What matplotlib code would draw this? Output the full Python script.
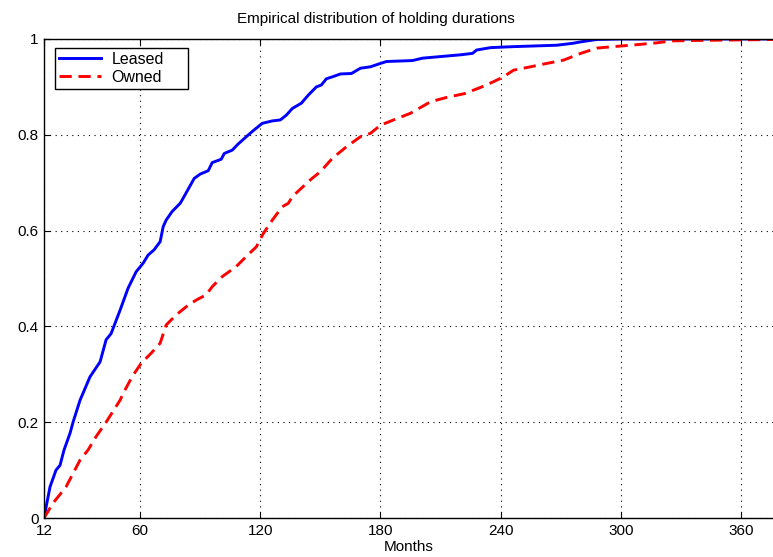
import matplotlib
matplotlib.use("Agg")
import matplotlib.pyplot as plt

plt.rcParams['font.family'] = ['Liberation Sans', 'DejaVu Sans']

# Data
leased_months = [12, 15, 18, 20, 22, 25, 26.5, 30, 35, 40, 43, 45.5, 50, 54, 58, 61.5, 64, 67, 70,
                 71.5, 73, 76, 80, 81, 87, 90, 94, 96, 100.5, 102, 106, 109, 113, 116, 121, 126,
                 130, 133, 136, 140.5, 144, 148, 150.5, 153, 156, 160, 165.5, 170, 175, 180, 183,
                 196, 201, 220, 226, 228, 235, 246, 268, 276, 280, 288, 300, 376]
leased_cdf = [0.0, 0.065, 0.10, 0.11, 0.142, 0.177, 0.20, 0.246, 0.295, 0.326, 0.372, 0.385, 0.434,
              0.48, 0.514, 0.532, 0.549, 0.56, 0.577, 0.608, 0.622, 0.64, 0.657, 0.664, 0.709,
              0.718, 0.725, 0.742, 0.749, 0.761, 0.768, 0.781, 0.796, 0.807, 0.824, 0.829, 0.831,
              0.841, 0.855, 0.866, 0.883, 0.90, 0.904, 0.917, 0.921, 0.927, 0.928, 0.939, 0.942,
              0.949, 0.953, 0.955, 0.96, 0.967, 0.97, 0.977, 0.982, 0.984, 0.987, 0.991, 0.994,
              0.999, 1.0, 1.0]

owned_months = [12, 16.5, 23, 30, 34, 38, 43, 50, 51.5, 56, 60.5, 65.5, 70, 73, 78, 83, 88, 93, 96,
                101, 108, 113, 118, 121.5, 126, 131, 134, 136, 145, 150, 156, 163, 170, 175, 180,
                186.5, 195, 205, 213, 222, 230, 236.5, 241, 246.5, 255, 263, 271.5, 280, 288, 296,
                305, 318, 325, 338, 376]
owned_cdf = [0.0, 0.031, 0.065, 0.121, 0.142, 0.17, 0.20, 0.246, 0.26, 0.295, 0.323, 0.344, 0.365,
             0.403, 0.424, 0.441, 0.455, 0.466, 0.483, 0.504, 0.525, 0.546, 0.566, 0.594, 0.622,
             0.65, 0.657, 0.671, 0.706, 0.723, 0.751, 0.775, 0.796, 0.803, 0.82, 0.831, 0.845,
             0.869, 0.878, 0.886, 0.899, 0.911, 0.92, 0.935, 0.942, 0.949, 0.956, 0.97, 0.981,
             0.984, 0.987, 0.992, 0.996, 0.997, 0.999]

xticks = [12, 60, 120, 180, 240, 300, 360]
yticks = [0, 0.2, 0.4, 0.6, 0.8, 1]
yticklabels = ['0', '0.2', '0.4', '0.6', '0.8', '1']

W, H = 773, 557
fig = plt.figure(figsize=(W / 100, H / 100), dpi=100)
ax = fig.add_axes([44 / W, 1 - 518 / H, 1 - 44 / W, (518 - 39) / H])

ax.plot(leased_months, leased_cdf, color='#0000ff', lw=2.1, label='Leased', solid_joinstyle='round')
ax.plot(owned_months, owned_cdf, color='#ff0000', lw=2.1, ls=(0, (4.2, 2.3)), label='Owned')

ax.set_xlim(12, 376)
ax.set_ylim(0, 1)
ax.set_xticks(xticks)
ax.set_yticks(yticks)
ax.set_yticklabels(yticklabels)
ax.tick_params(direction='in', length=4, width=0.8, top=True, right=False,
               labelsize=11, colors='black', pad=4)
ax.grid(True, color='black', linestyle=(0, (1, 4)), linewidth=0.8)
for side in ['left', 'bottom', 'top']:
    ax.spines[side].set_linewidth(1.0)
ax.spines['right'].set_visible(False)

ax.set_xlabel('Months', fontsize=11, labelpad=2)
fig.text(376 / W, 1 - 19 / H, 'Empirical distribution of holding durations',
         ha='center', va='center', fontsize=11)

axw, axh = 729.0, 479.0
leg = ax.legend(loc='upper left',
                bbox_to_anchor=(11 / axw, 1 - 9 / axh - 0.1, 133 / axw, 0.1),
                mode='expand', fontsize=11.5,
                frameon=True, fancybox=False, edgecolor='black', framealpha=1,
                borderpad=0.25, handlelength=2.6, handletextpad=0.7, labelspacing=0.18,
                borderaxespad=0)
leg.get_frame().set_linewidth(1.0)

fig.savefig('out.png', dpi=100)
